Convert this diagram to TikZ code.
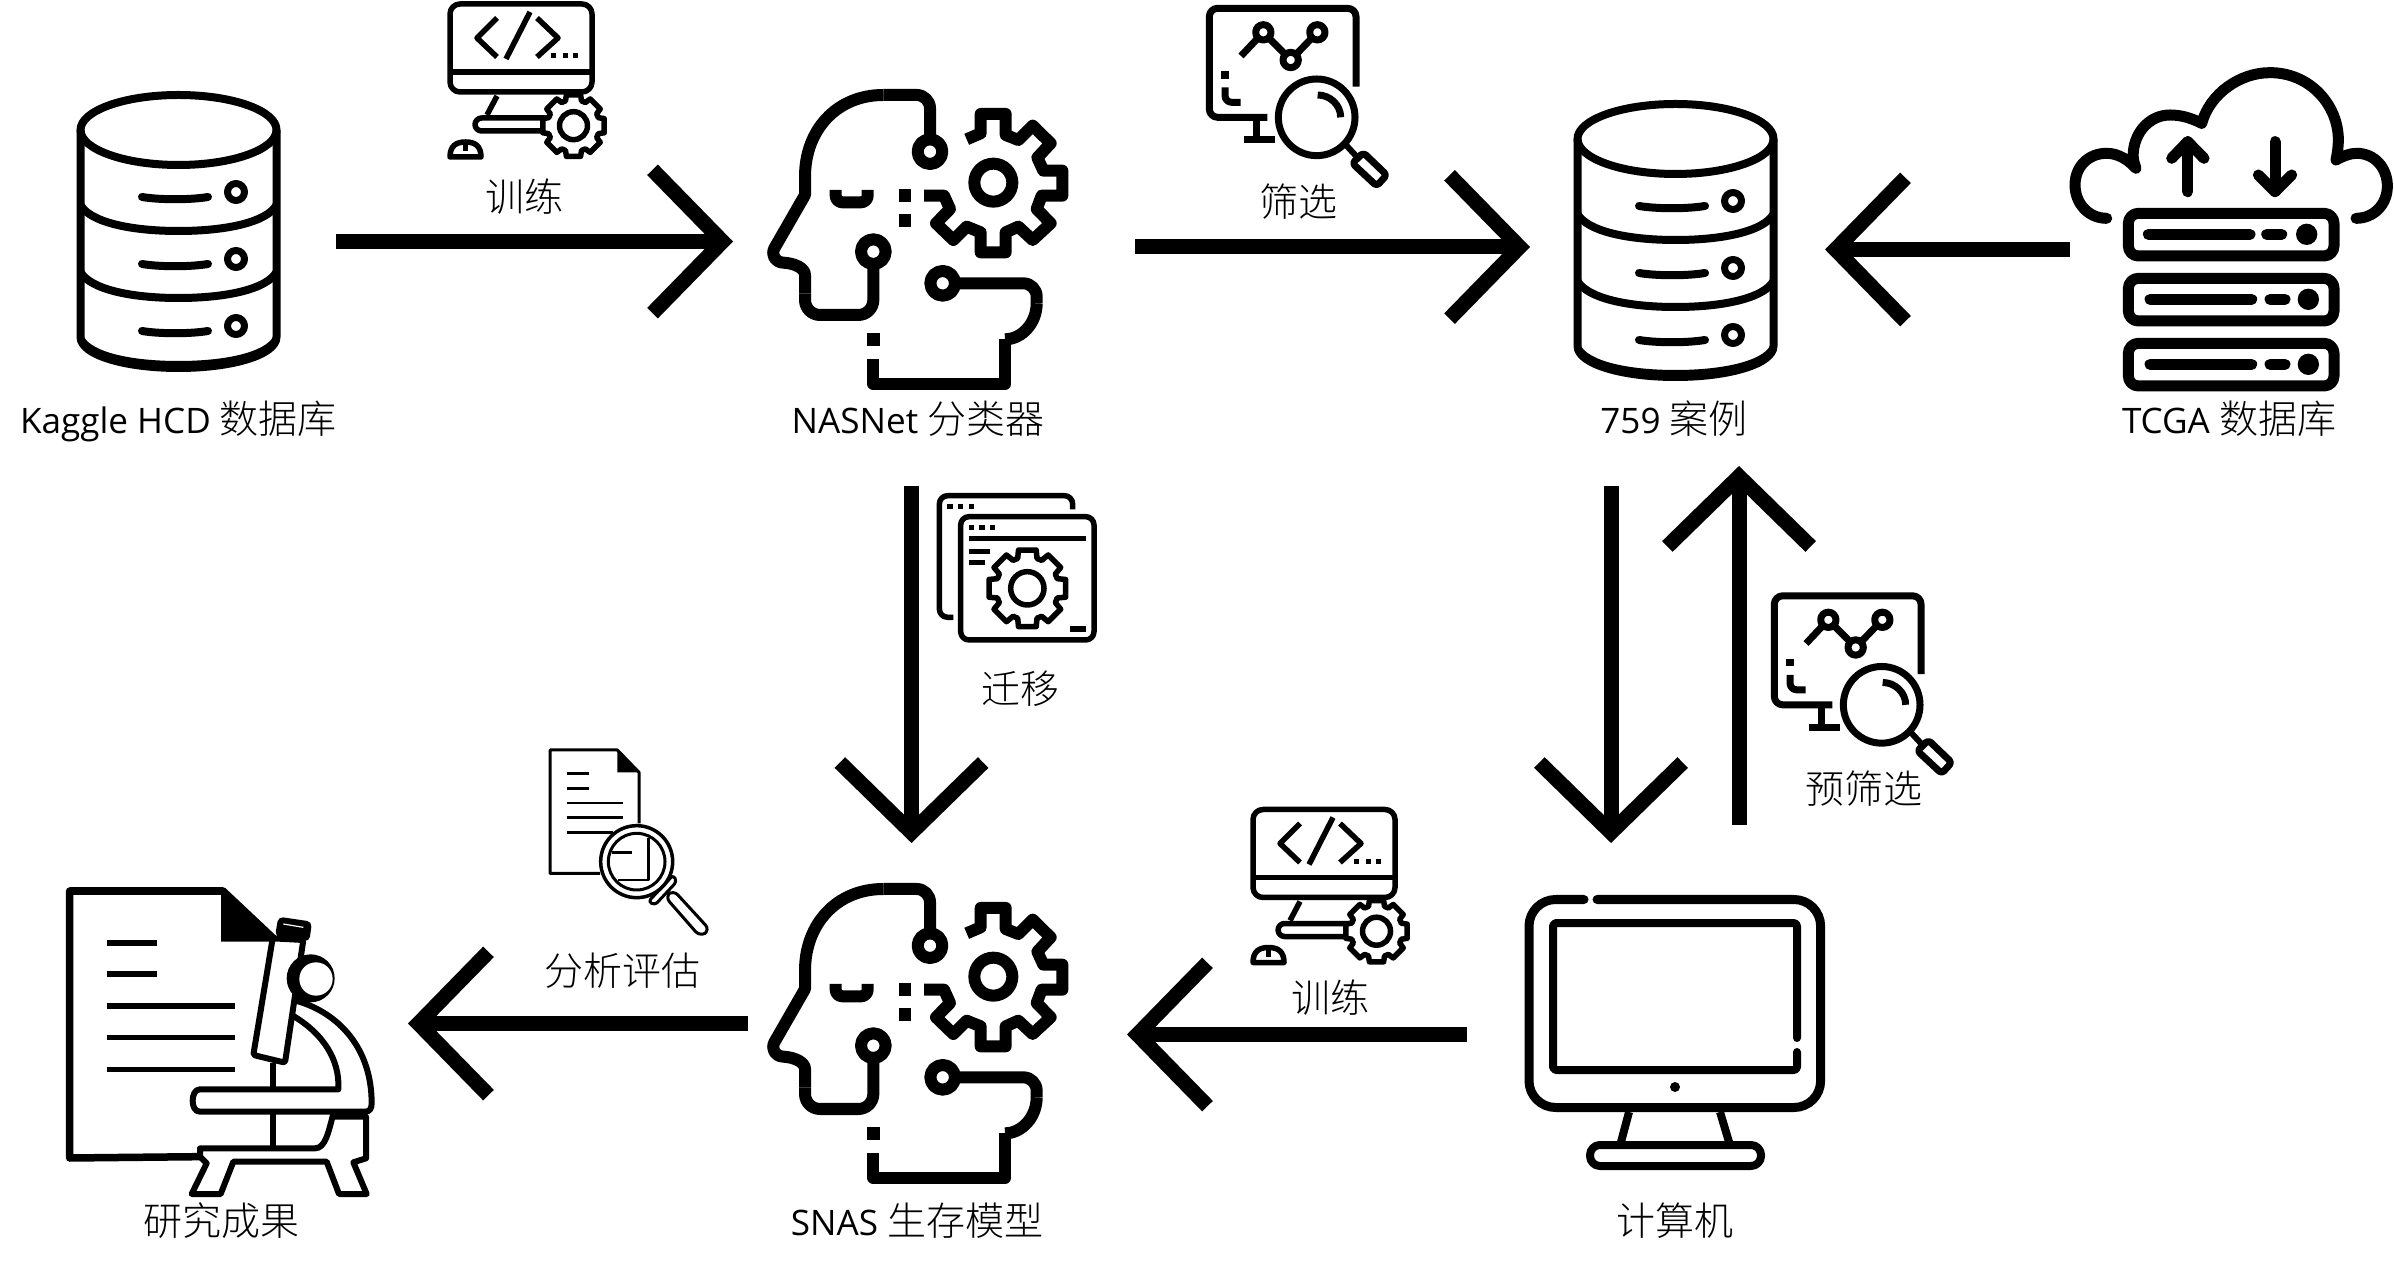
\documentclass[tikz,border=0pt]{standalone}
\usepackage{fontspec}
\setmainfont{Open Sans}[Scale=0.9]
\newfontfamily\cjk{Noto Sans CJK SC}[UprightFont={* Light}]
\usetikzlibrary{arrows.meta}
\newcommand{\gearpath}[2]{(-22.5:#1) \foreach \a in {0,45,...,315} { -- (\a-18:#1) -- (\a-13:#2) -- (\a+13:#2) -- (\a+18:#1) -- (\a+22.5:#1)} -- cycle}
\begin{document}
\begin{tikzpicture}[x=0.3pt,y=-0.3pt,
  lw/.style={line width=0.3pt*#1,line join=round},
  lbl/.style={font=\fontsize{11.7pt}{14pt}\selectfont,inner sep=0,text height=11.5pt,text depth=3pt},
  third/.style={scale=1/3},
  bigarrow/.style={line width=4.5pt,-{Straight Barb[length=21pt,width=43pt]}},
  pics/dbicon/.style={code={
    \draw[lw=8] (178.5,130) ellipse (98 and 35);
    \draw[lw=8] (80.5,130) -- (80.5,337) .. controls (80.5,355) and (125,368) .. (178.5,368) .. controls (232,368) and (276.5,355) .. (276.5,337) -- (276.5,130);
    \foreach \s in {0,67,134} {
      \draw[lw=8] (80.5,205+\s) .. controls (90,222+\s) and (130,231+\s) .. (178.5,231+\s) .. controls (227,231+\s) and (267,222+\s) .. (276.5,205+\s);
      \draw[lw=8,line cap=round] (142,197+\s) .. controls (160,200+\s) and (190,200+\s) .. (208,197+\s);
      \draw[lw=7] (236,192+\s) circle (8.5);
    }
  }},
  pics/headicon/.style={code={
    \draw[lw=12,rounded corners=4pt] (570,240) -- (570,105) -- (430,105);
    \draw[lw=12] (430,105) .. controls (290,105) and (195,210) .. (195,350) -- (195,405) -- (103,565) .. controls (93,585) and (105,607) .. (130,608) .. controls (165,610) and (195,625) .. (195,645) -- (195,700);
    \draw[lw=12,rounded corners=4.5pt] (195,700) -- (195,765) -- (400,765) -- (400,612);
    \draw[lw=12] (570,275) circle (37);
    \draw[lw=12] (400,575) circle (37);
    \draw[lw=12] (608,670) circle (37);
    \draw[lw=12,rounded corners=4pt] (645,670) -- (890,670) -- (890,730);
    \draw[lw=12] (890,730) .. controls (890,790) and (845,838) .. (795,838);
    \draw[lw=12] (795,838) -- (795,972) -- (400,972) -- (400,897);
    \fill (381,820) rectangle (419,858);
    \fill (476,388) rectangle (514,426);
    \fill (476,463) rectangle (514,500);
    \draw[lw=12,rounded corners=2pt] (287,390) -- (287,427) -- (383,427) -- (383,390);
    \draw[lw=12] (760,368) circle (57);
    \draw[lw=12] (680,238) -- (722,220) -- (722,162) -- (797,162) -- (797,225) -- (835,240) -- (878,197) -- (932,250) -- (892,293) -- (910,332) -- (967,332) -- (967,407) -- (905,407) -- (890,447) -- (932,490) -- (878,540) -- (835,500) -- (797,517) -- (797,577) -- (722,577) -- (722,517) -- (680,500) -- (640,540) -- (588,490) -- (630,447) -- (612,407) -- (552,407);
  }},
  pics/codeicon/.style={code={
    \draw[lw=5.5] (50,96) -- (40,115);
    \draw[lw=5.5,rounded corners=2pt] (28,118) rectangle (104,131);
    \draw[lw=5.5,fill=white,shift={(126.5,125.7)}] \gearpath{26}{31.5};
    \draw[lw=5.5] (126.5,125.7) circle (14);
    \draw[lw=5.5,fill=white,rounded corners=3pt] (3,4) rectangle (145,92);
    \draw[lw=5.5] (3,72) -- (145,72);
    \draw[lw=5.5] (50,18) -- (30,38) -- (50,57);
    \draw[lw=5.5] (83,12) -- (59,59);
    \draw[lw=5.5] (90,18) -- (111,38) -- (90,57);
    \foreach \s in {106.5,118,128} \fill (\s-2.5,53.5) rectangle (\s+2.5,58.5);
    \draw[lw=5.5] (3,157) .. controls (3,146) and (9,142) .. (18.5,142) .. controls (28,142) and (34,146) .. (34,157) -- cycle;
    \draw[lw=5.5] (18.5,142) -- (18.5,151);
  }},
  pics/charticon/.style={code={
    \draw[lw=7,rounded corners=2.5pt] (528,260) -- (528,25) -- (88,25) -- (88,352) -- (262,352);
    \draw[lw=7] (230,352) -- (230,420);
    \draw[lw=7] (193,420) -- (285,420);
    \draw[lw=7] (183,168) -- (250,97) -- (332,180) -- (412,97);
    \foreach \p in {(250,97),(332,180),(412,97)} \draw[lw=7,fill=white] \p circle (23);
    \fill (124,214) rectangle (146,236);
    \draw[lw=7,rounded corners=2pt] (135,262) -- (135,307) -- (182,307);
    \draw[lw=7,fill=white] (410,352) circle (115);
    \draw[lw=7] (413,285) .. controls (450,285) and (482,315) .. (482,352);
    \draw[lw=6] (495,432) -- (530,470);
    \draw[lw=7,fill=white,rounded corners=1pt] (550,458) -- (620,525) -- (590,558) -- (517,490) -- cycle;
  }},
  pics/cloudicon/.style={code={
    \draw[lw=11,line cap=round] (170,505) .. controls (115,505) and (75,460) .. (75,405) .. controls (75,350) and (115,310) .. (170,310) .. controls (205,310) and (235,330) .. (258,355) .. controls (250,335) and (248,320) .. (250,305) .. controls (255,245) and (300,195) .. (360,195) .. controls (395,195) and (425,205) .. (455,220) .. controls (480,130) and (570,68) .. (660,68) .. controls (780,68) and (865,165) .. (865,270) .. controls (865,290) and (862,310) .. (858,330) .. controls (880,318) and (900,310) .. (920,310) .. controls (975,310) and (1012,355) .. (1012,408) .. controls (1012,465) and (970,505) .. (918,505);
    \draw[lw=11,line cap=round] (413,425) -- (413,275);
    \draw[lw=11,line cap=round] (365,325) -- (413,275) -- (462,325);
    \draw[lw=11,line cap=round] (675,275) -- (675,425);
    \draw[lw=11,line cap=round] (625,375) -- (675,425) -- (725,375);
    \foreach \y/\d in {553/0,748/5,943/5} {
      \draw[lw=11,rounded corners=3pt] (235,\y-63) rectangle (852,\y+65);
      \draw[lw=11,line cap=round] (295+\d,\y) -- (600+\d,\y);
      \draw[lw=11,line cap=round] (650+2*\d,\y) -- (695+2*\d,\y);
      \fill (770+\d,\y) circle (32);
    }
  }},
  pics/windowicon/.style={code={
    \draw[lw=5.5,rounded corners=2.5pt] (458,88) -- (458,47) -- (58,47) -- (58,412) -- (100,412);
    \foreach \s in {90,122,154} \fill (\s-8,72) rectangle (\s+8,88);
    \draw[lw=5.5,rounded corners=2.5pt] (122,110) rectangle (522,480);
    \foreach \s in {154,186,218} \fill (\s-8,135) rectangle (\s+8,151);
    \draw[lw=5.5] (146,175) -- (497,175);
    \draw[lw=5.5] (146,215) -- (210,215);
    \draw[lw=5.5] (146,247) -- (194,247);
    \draw[lw=5.5] (450,447) -- (497,447);
    \draw[lw=5.5,shift={(322,325)}] \gearpath{94}{118};
    \draw[lw=5.5] (322,325) circle (50);
  }},
  pics/reporticon/.style={code={
    \draw[lw=3] (297,250) -- (297,97) -- (232,30) -- (30,30) -- (30,400) -- (180,400);
    \fill (232,30) -- (297,97) -- (232,97) -- cycle;
    \draw[lw=2.5] (80,100) -- (147,100);
    \draw[lw=2.5] (80,145) -- (147,145);
    \draw[lw=2.5] (80,189) -- (248,189);
    \draw[lw=2.5] (80,233) -- (248,233);
    \draw[lw=2.5] (80,278) -- (220,278);
    \draw[lw=3,fill=white,rounded corners=2pt] (375,470) -- (480,590) -- (510,570) -- (400,450) -- cycle;
    \draw[lw=3,fill=white,rounded corners=1pt] (325,485) -- (345,495) -- (410,425) -- (400,405) -- cycle;
    \draw[lw=3.5,fill=white] (290,365) circle (108);
    \draw[lw=3] (290,365) circle (85);
    \draw[lw=2.5] (215,337) -- (275,337);
    \draw[lw=2.5] (325,295) -- (325,420) -- (235,420);
  }},
  pics/scopeicon/.style={code={
    \draw[lw=7.5] (30,770) -- (-361,774) -- (-361,-27) -- (99,-27) -- (250,115);
    \fill (93,-27) -- (93,125) -- (250,125) -- cycle;
    \foreach \y/\e in {129/-99,222/-99,318/136,413/136,508/136} \fill (-249,\y-8) rectangle (\e,\y+8);
    \draw[lw=6] (250,490) -- (250,745);
    \draw[lw=6,fill=white] (310,300) .. controls (430,330) and (545,430) .. (545,610) .. controls (545,625) and (540,635) .. (525,635) -- (30,635) .. controls (15,635) and (8,620) .. (8,602) .. controls (8,585) and (15,568) .. (30,568) -- (445,568) .. controls (450,480) and (400,400) .. (305,345);
    \draw[lw=6,fill=white,rounded corners=0.5pt] (248,115) -- (190,465) -- (285,488) -- (340,120) -- cycle;
    \fill[rounded corners=1.5pt] (265,50) -- (366,65) -- (358,125) -- (255,110) -- cycle;
    \draw[white,lw=1.2] (280,72) -- (340,82);
    \fill (362,235) circle (72);
    \fill[white] (378,237) circle (50);
    \draw[lw=6] (430,650) -- (528,650) -- (528,775) -- (490,787) -- (530,882) -- (447,882) -- (410,785) -- (130,785) -- (92,882) -- (5,882) -- (50,790) -- (30,770) -- (30,745) -- (375,745) .. controls (405,745) and (415,700) .. (430,640);
  }}]
\path[use as bounding box] (0,0) rectangle (2394,1266);
\pic at (0,0) {dbicon};
\pic at (1497,9) {dbicon};
\pic[third] at (740,60) {headicon};
\pic[third] at (740,854) {headicon};
\pic at (447,0) {codeicon};
\pic at (1250,805.5) {codeicon};
\pic[third] at (1180,0) {charticon};
\pic[third] at (1745,587.5) {charticon};
\pic[third] at (2050,50) {cloudicon};
\pic[third] at (920,480) {windowicon};
\pic[third] at (540,740) {reporticon};
\pic[third] at (190,900) {scopeicon};
\draw[lw=9,line cap=round,rounded corners=8pt] (1584,899.5) -- (1529,899.5) -- (1529,1107.5) -- (1820.6,1107.5) -- (1820.6,899.5) -- (1597,899.5);
\draw[lw=8,line cap=round,rounded corners=1pt] (1797,1038) -- (1797,923) -- (1553,923) -- (1553,1070) -- (1797,1070) -- (1797,1052);
\fill (1675,1087) circle (5);
\draw[lw=8] (1629,1112) -- (1621,1142);
\draw[lw=8] (1720,1112) -- (1729,1142);
\draw[lw=8,rounded corners=3pt] (1590,1145) rectangle (1761,1166);
\node[lbl] (kaggle) at (178.5,419) {Kaggle HCD {\cjk 数据库}};
\node[lbl] (nasnet) at (918,419) {NASNet {\cjk 分类器}};
\node[lbl] (cases) at (1674,419) {759 {\cjk 案例}};
\node[lbl] (tcga) at (2229,419) {TCGA {\cjk 数据库}};
\node[lbl] (snas) at (917,1221) {SNAS {\cjk 生存模型}};
\node[lbl] (results) at (221,1221) {\cjk 研究成果};
\node[lbl] (computer) at (1675,1221) {\cjk 计算机};
\node[lbl] (trainup) at (524,197) {\cjk 训练};
\node[lbl] (screen) at (1298,202) {\cjk 筛选};
\node[lbl] (transfer) at (1020,689) {\cjk 迁移};
\node[lbl] (prescreen) at (1864,789) {\cjk 预筛选};
\node[lbl] (trainlow) at (1330,998) {\cjk 训练};
\node[lbl] (analyse) at (622.6,971) {\cjk 分析评估};
\coordinate (kaggleout) at (336,241.5);
\coordinate (nasnetin) at (733,241.5);
\coordinate (nasnetout) at (1135,247);
\coordinate (casesin) at (1530,247);
\coordinate (tcgaout) at (2070,249.5);
\coordinate (casesright) at (1825,249.5);
\coordinate (nasnetdown) at (911.5,486);
\coordinate (snasin) at (911.5,843);
\coordinate (casesdown) at (1611,486);
\coordinate (computerin) at (1611,843);
\coordinate (computerup) at (1739,825);
\coordinate (casesbelow) at (1739,466);
\coordinate (computerout) at (1467,1034.5);
\coordinate (snasright) at (1127,1034.5);
\coordinate (snasout) at (748,1023.5);
\coordinate (resultsin) at (408,1023.5);
\draw[bigarrow] (kaggleout) -- (nasnetin);
\draw[bigarrow] (nasnetout) -- (casesin);
\draw[bigarrow] (tcgaout) -- (casesright);
\draw[bigarrow] (nasnetdown) -- (snasin);
\draw[bigarrow] (casesdown) -- (computerin);
\draw[bigarrow] (computerup) -- (casesbelow);
\draw[bigarrow] (computerout) -- (snasright);
\draw[bigarrow] (snasout) -- (resultsin);
\end{tikzpicture}
\end{document}
